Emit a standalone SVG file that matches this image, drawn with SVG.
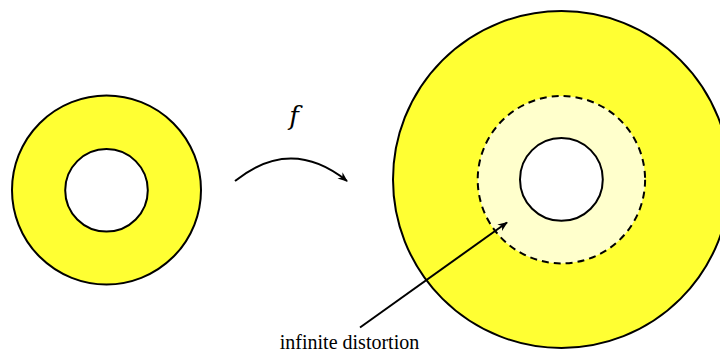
<svg xmlns="http://www.w3.org/2000/svg" width="720" height="352" viewBox="0 0 720 352">
<style>
.ln{stroke:#000;stroke-width:2;fill:none}
.yl{fill:#ffff33;stroke:#000;stroke-width:2}
.hole{fill:#fff;stroke:#000;stroke-width:2}
.t{font-family:"Liberation Serif",serif;fill:#000}
.m{font-family:"DejaVu Serif","Liberation Serif",serif;font-style:italic;fill:#000}
</style>
<defs>
<marker id="ah" viewBox="0 0 10 10" refX="9" refY="5" markerWidth="5" markerHeight="5" orient="auto" markerUnits="strokeWidth">
<path d="M0,1 L10,5 L0,9 L3,5 Z" fill="#000"/>
</marker>
</defs>
<g id="left-annulus">
<circle class="yl" cx="106.5" cy="190" r="94.5"/>
<circle class="hole" cx="106.5" cy="190.3" r="41.3"/>
</g>
<g id="right-annulus">
<circle class="yl" cx="561.5" cy="179.5" r="168.5"/>
<circle cx="561.4" cy="179.7" r="83.7" fill="#ffffcc" stroke="#000" stroke-width="2" stroke-dasharray="7,5"/>
<circle class="hole" cx="561.4" cy="179.4" r="41.4"/>
</g>
<g id="connectors">
<path class="ln" d="M235,181 Q291,136 347,181" marker-end="url(#ah)"/>
<path class="ln" d="M360,327.5 L507,222.5" marker-end="url(#ah)"/>
</g>
<g id="labels">
<text class="m" x="294" y="125" font-size="26" text-anchor="middle">f</text>
<text class="t" x="349.5" y="349" font-size="20" text-anchor="middle">infinite distortion</text>
</g>
</svg>
